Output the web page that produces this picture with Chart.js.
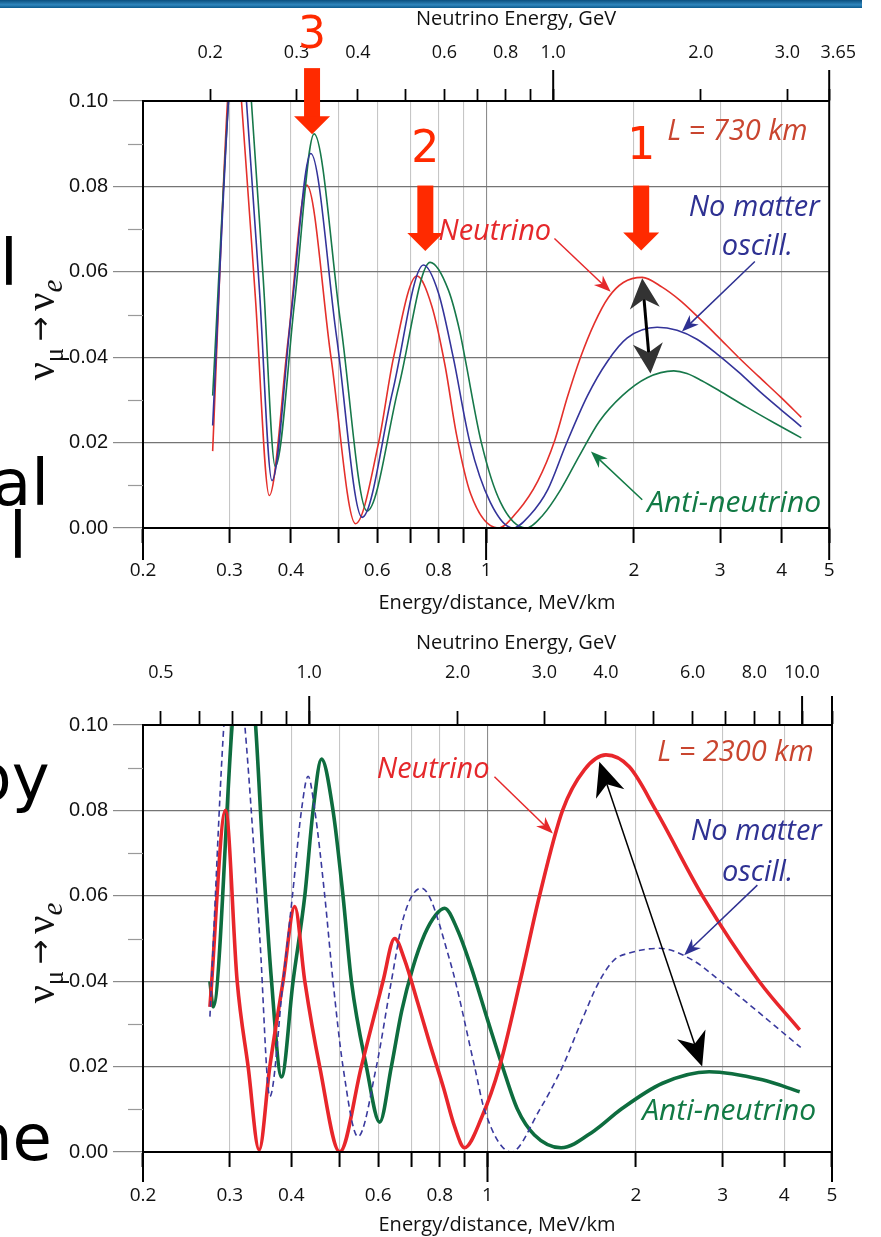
<!DOCTYPE html>
<html>
<head>
<meta charset="utf-8">
<script src="https://cdn.jsdelivr.net/npm/chart.js@4.4.1/dist/chart.umd.min.js"></script>
<style>
  html, body { margin: 0; padding: 0; background: #fff; }
  body { width: 881px; height: 1237px; position: relative; overflow: hidden; }
  #bar { position: absolute; left: 0; top: 0; width: 862px; height: 8px;
         background: linear-gradient(#0a4f7e, #2f86bd 60%, #0c5a8d); }
  .frag { position: absolute; font-family: "DejaVu Sans"; font-size: 64px; line-height: 1;
          color: #000; white-space: nowrap; }
  .wrap { position: absolute; left: 0; width: 862px; overflow: hidden; }
  #w1 { top: 0; height: 618px; }
  #w2 { top: 618px; height: 619px; }
</style>
</head>
<body>
<div id="bar"></div>
<div class="frag" style="left:0px;top:231px">l</div>
<div class="frag" style="left:-8px;top:451px">al</div>
<div class="frag" style="left:9px;top:504px">l</div>
<div class="frag" style="left:-29px;top:746px">by</div>
<div class="frag" style="left:-28px;top:1106px">ne</div>
<div class="wrap" id="w1"><canvas id="c1" width="881" height="618"></canvas></div>
<div class="wrap" id="w2"><canvas id="c2" width="881" height="619"></canvas></div>

<script>
// ---------- L = 730 km : appearance probability vs E/L ----------
const nu730X   = [0.2773, 0.2973, 0.3072, 0.3174, 0.3388, 0.3617, 0.3950, 0.4313, 0.4830, 0.5419,
                  0.6040, 0.6480, 0.7226, 0.7750, 0.8250, 0.8700, 0.9300, 1.0576, 1.1610, 1.2744,
                  1.3798, 1.4627, 1.5575, 1.6627, 1.7747, 1.9036, 2.0800, 2.2832, 2.4834, 2.7132,
                  2.9796, 3.2654, 3.5902, 3.9778, 4.3870];
const nu730Y   = [0.018, 0.100, 0.118, 0.100, 0.054, 0.0076, 0.044, 0.0803, 0.040, 0.001,
                  0.020, 0.040, 0.059, 0.052, 0.038, 0.022, 0.008, 0.000, 0.004, 0.011,
                  0.0205, 0.0305, 0.040, 0.048, 0.054, 0.0575, 0.0587, 0.0564, 0.0533, 0.0492,
                  0.0446, 0.040, 0.0355, 0.0307, 0.0259];

const vac730X  = [0.2773, 0.2987, 0.3115, 0.3249, 0.3452, 0.3663, 0.4007, 0.4394, 0.4956, 0.5589,
                  0.6451, 0.7455, 0.8000, 0.8570, 0.9270, 1.0200, 1.1342, 1.2277, 1.3354, 1.4540,
                  1.6093, 1.7664, 1.9394, 2.2306, 2.4492, 2.6884, 2.9518, 3.2700, 3.6070, 3.9778,
                  4.3870];
const vac730Y  = [0.024, 0.100, 0.125, 0.100, 0.056, 0.0111, 0.050, 0.0877, 0.045, 0.0025,
                  0.032, 0.0616, 0.055, 0.040, 0.020, 0.006, 0.000, 0.003, 0.009, 0.0195,
                  0.031, 0.039, 0.0445, 0.047, 0.0463, 0.0442, 0.0408, 0.0365, 0.032, 0.0278,
                  0.0237];

const anti730X = [0.2773, 0.2987, 0.3144, 0.3325, 0.3517, 0.3720, 0.4073, 0.4463, 0.5054, 0.5721,
                  0.6634, 0.7692, 0.8380, 0.8840, 0.9050, 0.9780, 1.0700, 1.2067, 1.3046, 1.4189,
                  1.5503, 1.7019, 1.8947, 2.1290, 2.4120, 2.5658, 2.7514, 3.0216, 3.3946, 3.8502,
                  4.3870];
const anti730Y = [0.031, 0.100, 0.130, 0.100, 0.058, 0.0144, 0.053, 0.0923, 0.048, 0.004,
                  0.033, 0.0622, 0.0557, 0.046, 0.040, 0.020, 0.006, 0.000, 0.003, 0.009,
                  0.017, 0.025, 0.031, 0.0352, 0.0368, 0.0362, 0.0345, 0.0318, 0.0283, 0.0247,
                  0.0211];

// ---------- L = 2300 km ----------
const nu2300X   = [0.2734, 0.2941, 0.3105, 0.3268, 0.3441, 0.3617, 0.3848, 0.4064, 0.4259, 0.4566,
                   0.5014, 0.5547, 0.6137, 0.6480, 0.6790, 0.7216, 0.7631, 0.8145, 0.8573, 0.8982,
                   0.9724, 1.0580, 1.1650, 1.2750, 1.4200, 1.5721, 1.7392, 1.9394, 2.1960, 2.7300,
                   3.5560, 4.3000];
const nu2300Y   = [0.034, 0.080, 0.040, 0.020, 0.0005, 0.020, 0.040, 0.0575, 0.040, 0.020,
                   0.000, 0.020, 0.040, 0.050, 0.045, 0.035, 0.0255, 0.015, 0.006, 0.001,
                   0.008, 0.020, 0.040, 0.060, 0.080, 0.0895, 0.093, 0.0902, 0.080, 0.060,
                   0.040, 0.0286];

const vac2300X  = [0.2734, 0.2918, 0.3057, 0.3218, 0.3452, 0.3617, 0.3848, 0.4020, 0.4193, 0.4325,
                   0.4463, 0.4675, 0.4859, 0.5091, 0.5460, 0.5950, 0.6382, 0.6758, 0.7341, 0.8380,
                   0.9415, 0.9864, 1.1169, 1.2744, 1.4200, 1.5431, 1.6861, 1.8081, 1.9394, 2.2306,
                   2.6021, 2.9700, 4.3200];
const vac2300Y  = [0.0317, 0.100, 0.125, 0.100, 0.050, 0.013, 0.040, 0.060, 0.080, 0.088,
                   0.080, 0.060, 0.040, 0.020, 0.0036, 0.020, 0.040, 0.055, 0.0618, 0.045,
                   0.020, 0.0098, 0.000, 0.0098, 0.020, 0.030, 0.040, 0.045, 0.0466, 0.0477,
                   0.045, 0.040, 0.0245];

const anti2300X = [0.2734, 0.2776, 0.3033, 0.3203, 0.3384, 0.3501, 0.3646, 0.3820, 0.4032, 0.4259,
                   0.4427, 0.4604, 0.4859, 0.5091, 0.5295, 0.5679, 0.6043, 0.6382, 0.6696, 0.7047,
                   0.7455, 0.7847, 0.8183, 0.8694, 0.9282, 1.0000, 1.0726, 1.1502, 1.2450, 1.4104,
                   1.6472, 1.8660, 2.2650, 2.8168, 3.6120, 4.3000];
const anti2300Y = [0.040, 0.034, 0.100, 0.130, 0.100, 0.070, 0.040, 0.0176, 0.040, 0.060,
                   0.080, 0.092, 0.080, 0.060, 0.040, 0.020, 0.007, 0.020, 0.033, 0.043,
                   0.051, 0.0555, 0.0571, 0.052, 0.043, 0.031, 0.020, 0.010, 0.004, 0.001,
                   0.005, 0.010, 0.0161, 0.0188, 0.0169, 0.0141];

// ---------- axes ----------
const edTicks   = [0.2, 0.3, 0.4, 0.5, 0.6, 0.7, 0.8, 0.9, 1, 2, 3, 4, 5];
const edLabels  = ['0.2', '0.3', '0.4', '', '0.6', '', '0.8', '', '1', '2', '3', '4', '5'];
const probTicks  = [0, 0.02, 0.04, 0.06, 0.08, 0.10];
const probLabels = ['0.00', '0.02', '0.04', '0.06', '0.08', '0.10'];
const probMinor  = [0.01, 0.03, 0.05, 0.07, 0.09];
const gev730Ticks   = [0.2, 0.3, 0.4, 0.5, 0.6, 0.7, 0.8, 0.9, 1.0, 2.0, 3.0, 3.65];
const gev730Labels  = ['0.2', '0.3', '0.4', '', '0.6', '', '0.8', '', '1.0', '2.0', '3.0', '\u2002\u20023.65'];
const gev2300Ticks  = [0.5, 0.6, 0.7, 0.8, 0.9, 1.0, 2.0, 3.0, 4.0, 5.0, 6.0, 7.0, 8.0, 9.0, 10.0, 11.5];
const gev2300Labels = ['0.5', '', '', '', '', '1.0', '2.0', '3.0', '4.0', '', '6.0', '', '8.0', '', '10.0', ''];

const pts = (xs, ys) => xs.map((x, i) => ({ x, y: ys[i] }));

// ---------- drawing helpers ----------
function headAt(ctx, x1, y1, x2, y2, len, wid, notch, color) {
  const a = Math.atan2(y2 - y1, x2 - x1);
  ctx.save();
  ctx.translate(x2, y2); ctx.rotate(a);
  ctx.beginPath();
  ctx.moveTo(0, 0);
  ctx.lineTo(-len, -wid / 2);
  ctx.lineTo(-len * (1 - notch), 0);
  ctx.lineTo(-len, wid / 2);
  ctx.closePath();
  ctx.fillStyle = color; ctx.fill();
  ctx.restore();
}
function thinArrow(ctx, x1, y1, x2, y2, o) {
  const a = Math.atan2(y2 - y1, x2 - x1);
  const back = o.len * (1 - o.notch) * 0.9;
  ctx.save();
  ctx.strokeStyle = o.color; ctx.lineWidth = o.lw; ctx.lineCap = 'butt';
  ctx.beginPath();
  ctx.moveTo(x1, y1);
  ctx.lineTo(x2 - Math.cos(a) * back, y2 - Math.sin(a) * back);
  ctx.stroke();
  ctx.restore();
  headAt(ctx, x1, y1, x2, y2, o.len, o.wid, o.notch, o.color);
}
function doubleArrow(ctx, x1, y1, x2, y2, o) {
  const a = Math.atan2(y2 - y1, x2 - x1);
  const back = o.len * (1 - o.notch) * 0.9;
  ctx.save();
  ctx.strokeStyle = o.lineColor; ctx.lineWidth = o.lw;
  ctx.beginPath();
  ctx.moveTo(x1 + Math.cos(a) * back, y1 + Math.sin(a) * back);
  ctx.lineTo(x2 - Math.cos(a) * back, y2 - Math.sin(a) * back);
  ctx.stroke();
  ctx.restore();
  headAt(ctx, x2, y2, x1, y1, o.len, o.wid, o.notch, o.color);
  headAt(ctx, x1, y1, x2, y2, o.len, o.wid, o.notch, o.color);
}
function bigDownArrow(ctx, x, yTop, yTip, color) {
  const shaft = 16, head = 36, hl = 18;
  ctx.save();
  ctx.fillStyle = color;
  ctx.fillRect(x - shaft / 2, yTop, shaft, yTip - hl - yTop + 1);
  ctx.beginPath();
  ctx.moveTo(x - head / 2, yTip - hl);
  ctx.lineTo(x + head / 2, yTip - hl);
  ctx.lineTo(x, yTip);
  ctx.closePath(); ctx.fill();
  ctx.restore();
}
function nuTitle(ctx, cx, cy) {
  const parts = [
    ['\u03BD', '40px "Liberation Serif"', 0],
    ['\u03BC', '27px "Liberation Serif"', 9],
    ['\u2009\u2192\u2009', '30px "DejaVu Sans"', -4],
    ['\u03BD', '40px "Liberation Serif"', 0],
    ['e', 'italic 29px "Liberation Serif"', 8],
  ];
  ctx.save();
  ctx.translate(cx, cy); ctx.rotate(-Math.PI / 2);
  ctx.fillStyle = '#111'; ctx.textAlign = 'left'; ctx.textBaseline = 'alphabetic';
  let w = 0;
  for (const p of parts) { ctx.font = p[1]; w += ctx.measureText(p[0]).width; }
  let x = -w / 2;
  for (const p of parts) { ctx.font = p[1]; ctx.fillText(p[0], x, p[2]); x += ctx.measureText(p[0]).width; }
  ctx.restore();
}

// Frame, long ticks, minor ticks, axis titles and annotations for one panel
function makeDecor(cfg) {
  return {
    id: 'decor',
    afterDatasetsDraw(chart) {
      const ctx = chart.ctx, a = chart.chartArea;
      const sx = chart.scales.x, sy = chart.scales.y, st = chart.scales.xTop;
      const X = v => sx.getPixelForValue(v), Y = v => sy.getPixelForValue(v);
      ctx.save();
      // plot frame
      ctx.strokeStyle = '#000'; ctx.lineWidth = 2;
      ctx.strokeRect(a.left, a.top, a.right - a.left, a.bottom - a.top);
      // minor y ticks
      ctx.strokeStyle = '#9a9a9a'; ctx.lineWidth = 1.2;
      for (const v of probMinor) {
        const y = Math.round(Y(v)) + 0.5;
        ctx.beginPath(); ctx.moveTo(a.left - 15, y); ctx.lineTo(a.left, y); ctx.stroke();
      }
      // long ticks
      ctx.strokeStyle = '#000'; ctx.lineWidth = 2;
      for (const v of cfg.longBottom) {
        const x = X(v);
        ctx.beginPath(); ctx.moveTo(x, a.bottom); ctx.lineTo(x, a.bottom + cfg.longBottomLen); ctx.stroke();
      }
      for (const v of cfg.longTop) {
        const x = st.getPixelForValue(v);
        ctx.beginPath(); ctx.moveTo(x, a.top); ctx.lineTo(x, a.top - cfg.longTopLen); ctx.stroke();
      }
      // axis titles
      ctx.fillStyle = '#111'; ctx.textAlign = 'center'; ctx.textBaseline = 'middle';
      ctx.font = '20px "Open Sans"';
      ctx.fillText('Energy/distance, MeV/km', cfg.bottomTitle[0], cfg.bottomTitle[1]);
      ctx.fillText('Neutrino Energy, GeV', cfg.topTitle[0], cfg.topTitle[1]);
      nuTitle(ctx, cfg.yTitle[0], cfg.yTitle[1]);
      // annotations
      for (const b of cfg.bigArrows) {
        bigDownArrow(ctx, X(b.x), Y(b.top), Y(b.tip), '#ff2a00');
        ctx.fillStyle = '#ff2a00'; ctx.font = '44px "DejaVu Sans"';
        ctx.textAlign = 'center'; ctx.textBaseline = 'middle';
        ctx.fillText(b.n, X(b.x), Y(b.ny));
      }
      for (const t of cfg.texts) {
        ctx.fillStyle = t.color; ctx.font = 'italic ' + (t.size || 29) + 'px "Open Sans"';
        ctx.textAlign = 'left'; ctx.textBaseline = 'middle';
        ctx.fillText(t.t, X(t.x), Y(t.y));
      }
      for (const r of cfg.arrows) {
        thinArrow(ctx, X(r.x1), Y(r.y1), X(r.x2), Y(r.y2),
                  { color: r.color, lw: 1.5, len: 17, wid: 13, notch: 0.3 });
      }
      const d = cfg.dbl;
      doubleArrow(ctx, X(d.x1), Y(d.y1), X(d.x2), Y(d.y2), d.style);
      ctx.restore();
    }
  };
}

function makeChart(id, o) {
  return new Chart(document.getElementById(id), {
    type: 'line',
    data: { datasets: o.datasets },
    options: {
      responsive: false, animation: false, events: [], devicePixelRatio: 1,
      layout: { padding: { left: 0, right: 49, top: 0, bottom: 0 } },
      plugins: { legend: { display: false }, tooltip: { enabled: false } },
      elements: { point: { radius: 0 }, line: { cubicInterpolationMode: 'monotone' } },
      scales: {
        x: {
          type: 'logarithmic', position: 'bottom', min: 0.2, max: 5,
          afterBuildTicks: s => { s.ticks = edTicks.map(v => ({ value: v })); },
          afterFit: s => { s.height = o.bottomH; },
          ticks: { autoSkip: false, maxRotation: 0, padding: o.bottomPad, color: '#111',
                   font: { family: '"Open Sans"', size: 19 },
                   callback: (v, i) => edLabels[i] },
          grid: {
            color: c => { const v = c.tick && c.tick.value;
                          if (v === 0.2 || v === 5) return 'rgba(0,0,0,0)';
                          return v === 1 ? '#8c8c8c' : '#c6c6c6'; },
            lineWidth: 1.1, tickLength: 15, tickColor: '#000', tickWidth: 2
          },
          border: { display: true, color: '#000', width: 2 }
        },
        xTop: {
          type: 'logarithmic', position: 'top', min: o.gevMin, max: o.gevMax,
          afterBuildTicks: s => { s.ticks = o.gevTicks.map(v => ({ value: v })); },
          afterFit: s => { s.height = o.topH; },
          ticks: { autoSkip: false, maxRotation: 0, padding: o.topPad, color: '#111',
                   font: { family: '"Open Sans"', size: 18 },
                   callback: (v, i) => o.gevLabels[i] },
          grid: { drawOnChartArea: false, tickLength: o.topTick, tickColor: '#000', tickWidth: 1.8,
                  color: '#000' },
          border: { display: true, color: '#000', width: 2 }
        },
        y: {
          type: 'linear', min: 0, max: 0.1,
          afterBuildTicks: s => { s.ticks = probTicks.map(v => ({ value: v })); },
          afterFit: s => { s.width = 143; },
          ticks: { padding: 5, color: '#111', font: { family: '"Liberation Sans"', size: 20 },
                   callback: (v, i) => probLabels[i] },
          grid: { color: '#747474', lineWidth: 1.2, tickLength: 30, tickColor: '#8a8a8a' },
          border: { display: true, color: '#000', width: 2 }
        }
      }
    },
    plugins: [makeDecor(o.decor)]
  });
}

const red = '#e4302b', blue = '#34349a', green = '#17784a';

makeChart('c1', {
  bottomH: 90, topH: 101, bottomPad: 16, topPad: 25, topTick: 12,
  gevMin: 0.146, gevMax: 3.65, gevTicks: gev730Ticks, gevLabels: gev730Labels,
  datasets: [
    { data: pts(vac730X, vac730Y),  borderColor: blue,  borderWidth: 1.6 },
    { data: pts(anti730X, anti730Y), borderColor: green, borderWidth: 1.6 },
    { data: pts(nu730X, nu730Y),    borderColor: red,   borderWidth: 1.6 }
  ],
  decor: {
    longBottom: [0.2, 1, 5], longBottomLen: 32, longTop: [1.0, 3.65], longTopLen: 31,
    bottomTitle: [497, 603], topTitle: [516, 19], yTitle: [54, 330],
    bigArrows: [
      { x: 0.442, top: 0.1077, tip: 0.0922, n: '3', ny: 0.1150 },
      { x: 0.752, top: 0.0802, tip: 0.0649, n: '2', ny: 0.0885 },
      { x: 2.070, top: 0.0802, tip: 0.0650, n: '1', ny: 0.0890 }
    ],
    texts: [
      { t: 'L = 730 km', x: 2.338, y: 0.0928, color: '#c9452f' },
      { t: 'Neutrino', x: 0.799, y: 0.0694, color: '#e5282b' },
      { t: 'No matter', x: 2.586, y: 0.0749, color: '#2e3192' },
      { t: 'oscill.', x: 3.022, y: 0.0659, color: '#2e3192' },
      { t: 'Anti-neutrino', x: 2.129, y: 0.0058, color: '#127a45', size: 30 }
    ],
    arrows: [
      { x1: 1.378, y1: 0.0678, x2: 1.794, y2: 0.0553, color: '#e5282b' },
      { x1: 3.528, y1: 0.0624, x2: 2.506, y2: 0.0460, color: '#2e3192' },
      { x1: 2.080, y1: 0.0066, x2: 1.635, y2: 0.0179, color: '#127a45' }
    ],
    dbl: { x1: 2.080, y1: 0.0585, x2: 2.162, y2: 0.0362,
           style: { lineColor: '#000', color: '#333', lw: 3, len: 30, wid: 30, notch: 0.3 } }
  }
});

makeChart('c2', {
  bottomH: 85, topH: 107, bottomPad: 17, topPad: 27, topTick: 14,
  gevMin: 0.46, gevMax: 11.5, gevTicks: gev2300Ticks, gevLabels: gev2300Labels,
  datasets: [
    { data: pts(vac2300X, vac2300Y),  borderColor: '#3a3a9e', borderWidth: 1.6, borderDash: [6, 4] },
    { data: pts(nu2300X, nu2300Y),    borderColor: '#e8262b', borderWidth: 3.6 },
    { data: pts(anti2300X, anti2300Y), borderColor: '#0e6d3f', borderWidth: 3.6 }
  ],
  decor: {
    longBottom: [0.2, 1, 5], longBottomLen: 30, longTop: [1.0, 10.0, 11.5], longTopLen: 29,
    bottomTitle: [497, 607], topTitle: [516, 25], yTitle: [54, 335],
    bigArrows: [],
    texts: [
      { t: 'L = 2300 km', x: 2.210, y: 0.0934, color: '#c9452f' },
      { t: 'Neutrino', x: 0.596, y: 0.0895, color: '#e5282b' },
      { t: 'No matter', x: 2.586, y: 0.0750, color: '#2e3192' },
      { t: 'oscill.', x: 2.990, y: 0.0653, color: '#2e3192' },
      { t: 'Anti-neutrino', x: 2.060, y: 0.0094, color: '#127a45', size: 30 }
    ],
    arrows: [
      { x1: 1.033, y1: 0.0879, x2: 1.357, y2: 0.0746, color: '#e5282b' },
      { x1: 3.528, y1: 0.0625, x2: 2.506, y2: 0.0461, color: '#2e3192' }
    ],
    dbl: { x1: 1.686, y1: 0.0914, x2: 2.726, y2: 0.0200,
           style: { lineColor: '#000', color: '#000', lw: 1.5, len: 34, wid: 30, notch: 0.3 } }
  }
});
</script>
</body>
</html>
